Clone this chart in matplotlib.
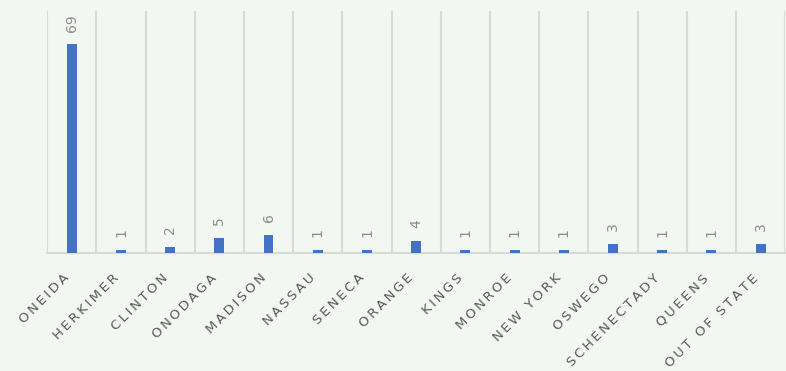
import numpy as np
import matplotlib.pyplot as plt

# Data
counties = ["ONEIDA", "HERKIMER", "CLINTON", "ONODAGA", "MADISON", "NASSAU", "SENECA",
            "ORANGE", "KINGS", "MONROE", "NEW YORK", "OSWEGO", "SCHENECTADY", "QUEENS",
            "OUT OF STATE"]
counts = [69, 1, 2, 5, 6, 1, 1, 4, 1, 1, 1, 3, 1, 1, 3]

bg = "#f3f7f2"
fig = plt.figure(figsize=(7.86, 3.71), dpi=100, facecolor=bg)
ax = fig.add_axes([0.060, 0.318, 0.939, 0.652], facecolor=bg)

x = np.arange(len(counties))
ax.bar(x, counts, width=0.2, color="#4472c4", zorder=3)

# value labels above each bar, rotated
for xi, v in zip(x, counts):
    ax.annotate(str(v), (xi, v), xytext=(0, 9), textcoords="offset points",
                rotation=90, ha="center", va="bottom", fontsize=10, color="#8c8c8c")

ax.set_xlim(-0.5, len(counties) - 0.5)
ax.set_ylim(0, 80)

# vertical gridlines between categories
ax.set_xticks(np.arange(-0.5, len(counties) + 0.5, 1), minor=True)
ax.grid(which="minor", axis="x", color="#d9d9d9", linewidth=1.5, zorder=0)
ax.tick_params(which="both", length=0)

# spaced-out category labels
spaced = ["\u2009".join(c) for c in counties]
ax.set_xticks(x)
ax.set_xticklabels(spaced, rotation=45, ha="right", va="bottom", rotation_mode="anchor",
                   fontsize=9.5, color="#595959")
ax.tick_params(axis="x", pad=20)
ax.set_yticks([])

for s in ["top", "right", "left"]:
    ax.spines[s].set_visible(False)
ax.spines["bottom"].set_color("#d9d9d9")
ax.spines["bottom"].set_linewidth(1.5)

fig.savefig("out.png", dpi=100, facecolor=bg)
